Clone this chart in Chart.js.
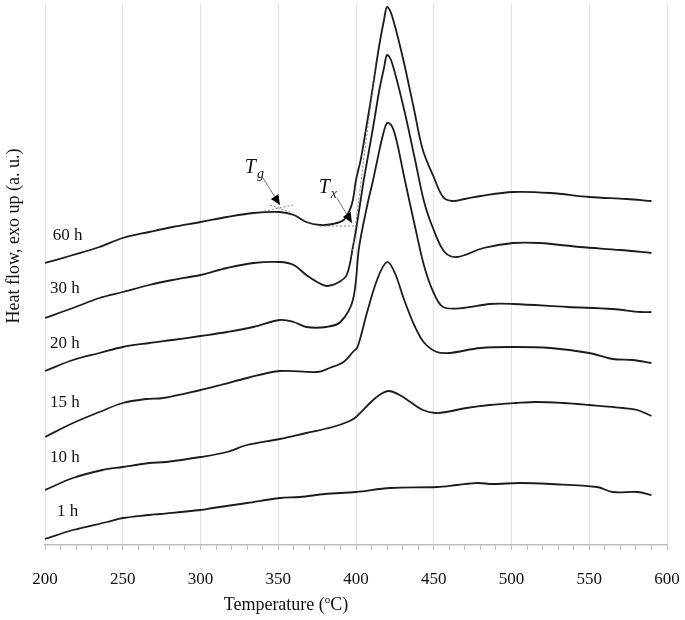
<!DOCTYPE html>
<html>
<head>
<meta charset="utf-8">
<title>DSC curves</title>
<script src="https://cdn.jsdelivr.net/npm/chart.js@4.4.1/dist/chart.umd.min.js"></script>
<style>
  html, body { margin: 0; padding: 0; background: #fff; }
  #wrap { width: 685px; height: 620px; }
</style>
</head>
<body>
<div id="wrap"><canvas id="myChart" width="685" height="620"></canvas></div>
<script>
// temperatures (C) and heat flow (a.u.), one pair per milling time
var temps60 = [200,218,235,250,267,282,300,317,334,351,360,368,377,385,392,396,398,400,403,406,409,412,415,418,420,423,430,437,443,450,456,462,470,480,501,525,550,574,590];
var heat60  = [28.2,29.0,29.8,30.7,31.3,31.8,32.3,32.8,33.2,33.3,33.0,32.3,32.0,32.1,32.5,33.5,34.5,36.5,38.5,41.2,44.0,47.0,50.0,52.5,53.8,53.0,48.8,43.8,39.5,36.8,34.8,34.4,34.6,34.9,35.3,35.2,34.8,34.6,34.4];

var temps30 = [200,218,235,250,267,282,300,317,334,351,360,368,375,381,388,394,398,400,403,405,409,412,415,418,420,423,431,438,444,450,457,465,482,501,518,544,570,590];
var heat30  = [22.7,23.7,24.7,25.3,26.0,26.5,27.0,27.7,28.2,28.3,28.0,27.0,26.3,25.9,26.2,27.0,29.8,31.5,34.5,36.5,40.0,42.7,45.5,47.7,49.0,48.3,43.5,38.5,34.2,31.5,29.3,28.8,29.7,30.2,30.2,29.8,29.5,29.2];

var temps20 = [200,218,235,250,267,282,300,317,334,351,360,368,381,390,398,402,407,411,414,417,420,423,426,431,438,444,450,456,469,486,501,536,565,583,590];
var heat20  = [17.4,18.5,19.2,19.8,20.2,20.5,20.9,21.3,21.8,22.5,22.3,21.8,21.8,22.3,24.5,29.8,33.8,36.5,38.7,40.8,42.2,41.9,40.5,36.8,31.8,27.8,25.2,23.8,23.7,24.1,24.1,23.8,23.6,23.3,23.3];

var temps15 = [200,218,235,250,265,276,300,313,330,351,375,383,392,398,401,407,414,420,425,431,438,444,452,460,480,501,525,550,565,578,590];
var heat15  = [10.8,12.2,13.3,14.2,14.6,14.7,15.5,16.0,16.7,17.4,17.3,17.7,18.3,19.3,19.8,23.2,26.7,28.3,27.2,24.5,21.8,20.2,19.3,19.2,19.7,19.8,19.7,19.2,18.6,18.5,18.2];

var temps10 = [200,218,237,250,267,278,300,317,330,351,368,385,396,400,409,415,421,428,435,443,451,458,471,486,503,516,533,550,572,581,590];
var heat10  = [5.5,6.7,7.5,7.8,8.2,8.3,8.8,9.3,10.0,10.6,11.2,11.8,12.4,12.8,14.2,15.0,15.4,15.0,14.3,13.5,13.2,13.3,13.7,14.0,14.2,14.3,14.2,14.0,13.7,13.5,12.9];

var temps1 = [200,218,240,250,267,274,300,308,330,351,364,380,400,422,452,465,478,488,505,525,555,565,581,590];
var heat1  = [0.6,1.5,2.3,2.7,3.0,3.1,3.5,3.7,4.2,4.7,4.8,5.1,5.3,5.7,5.8,6.0,6.2,6.1,6.2,6.1,5.8,5.3,5.3,5.0];

var seriesNames = ['60 h', '30 h', '20 h', '15 h', '10 h', '1 h'];
var xTickLabels = [200, 250, 300, 350, 400, 450, 500, 550, 600];

var serif = "'Liberation Serif', 'DejaVu Serif', serif";

function pairs(t, v) {
    return t.map(function(x, i){ return {x: x, y: v[i]}; });
}

var allTemps = [temps60, temps30, temps20, temps15, temps10, temps1];
var allHeat = [heat60, heat30, heat20, heat15, heat10, heat1];

var datasets = seriesNames.map(function(name, i){
    return {
        label: name,
        data: pairs(allTemps[i], allHeat[i]),
        borderColor: '#1c1c1c',
        borderWidth: 1.8,
        pointRadius: 0,
        fill: false,
        tension: 0.35
    };
});

// where the curve names sit (data units)
var nameAt = [[205, 30.9], [203.2, 25.6], [203.2, 20.1], [203.2, 14.2], [203.2, 8.7], [207.7, 3.3]];

function arrow(ctx, x1, y1, x2, y2) {
    ctx.save();
    ctx.strokeStyle = '#777';
    ctx.lineWidth = 1;
    ctx.beginPath();
    ctx.moveTo(x1, y1);
    ctx.lineTo(x2, y2);
    ctx.stroke();
    var a = Math.atan2(y2 - y1, x2 - x1);
    var len = 10, w = 4.5;
    ctx.fillStyle = '#000';
    ctx.beginPath();
    ctx.moveTo(x2, y2);
    ctx.lineTo(x2 - len * Math.cos(a) + w * Math.sin(a), y2 - len * Math.sin(a) - w * Math.cos(a));
    ctx.lineTo(x2 - len * Math.cos(a) - w * Math.sin(a), y2 - len * Math.sin(a) + w * Math.cos(a));
    ctx.closePath();
    ctx.fill();
    ctx.restore();
}

function dashed(ctx, x1, y1, x2, y2) {
    ctx.save();
    ctx.strokeStyle = '#666';
    ctx.lineWidth = 0.8;
    ctx.setLineDash([2, 2]);
    ctx.beginPath();
    ctx.moveTo(x1, y1);
    ctx.lineTo(x2, y2);
    ctx.stroke();
    ctx.restore();
}

function subLabel(ctx, x, y, main, sub) {
    ctx.save();
    ctx.fillStyle = '#111';
    ctx.textBaseline = 'alphabetic';
    ctx.textAlign = 'left';
    ctx.font = 'italic 20px ' + serif;
    ctx.fillText(main, x, y);
    var w = ctx.measureText(main).width;
    ctx.font = 'italic 14px ' + serif;
    ctx.fillText(sub, x + w + 1, y + 5);
    ctx.restore();
}

var decorations = {
    id: 'decorations',
    afterDatasetsDraw: function(chart) {
        var ctx = chart.ctx;
        var xs = chart.scales.x, ys = chart.scales.y;
        function X(v){ return xs.getPixelForValue(v); }
        function Y(v){ return ys.getPixelForValue(v); }

        // curve names
        ctx.save();
        ctx.fillStyle = '#111';
        ctx.font = '17px ' + serif;
        ctx.textAlign = 'left';
        ctx.textBaseline = 'middle';
        seriesNames.forEach(function(n, i){
            ctx.fillText(n, X(nameAt[i][0]), Y(nameAt[i][1]));
        });
        ctx.restore();

        // Tg construction
        dashed(ctx, X(338.3), Y(33.3), X(359.5), Y(34.0));
        dashed(ctx, X(344.7), Y(34.0), X(357.6), Y(33.3));
        arrow(ctx, X(340.2), Y(36.7), X(351.1), Y(34.0));
        subLabel(ctx, X(328.5), Y(37.2), 'T', 'g');

        // Tx construction
        dashed(ctx, X(376.8), Y(31.9), X(401.3), Y(31.9));
        dashed(ctx, X(397.4), Y(29.0), X(412.9), Y(48.5));
        arrow(ctx, X(387.8), Y(34.7), X(397.4), Y(32.2));
        subLabel(ctx, X(376.0), Y(35.2), 'T', 'x');

        // axis titles
        ctx.save();
        ctx.fillStyle = '#111';
        ctx.font = '18px ' + serif;
        ctx.textBaseline = 'middle';
        var t1 = 'Temperature (', t2 = 'o', t3 = 'C)';
        var w1 = ctx.measureText(t1).width;
        var w3 = ctx.measureText(t3).width;
        ctx.font = '11px ' + serif;
        var w2 = ctx.measureText(t2).width;
        var cx = 286, cy = 605;
        var sx = cx - (w1 + w2 + w3) / 2;
        ctx.font = '18px ' + serif;
        ctx.textAlign = 'left';
        ctx.fillText(t1, sx, cy);
        ctx.font = '11px ' + serif;
        ctx.fillText(t2, sx + w1, cy - 5);
        ctx.font = '18px ' + serif;
        ctx.fillText(t3, sx + w1 + w2, cy);

        ctx.translate(14, 236);
        ctx.rotate(-Math.PI / 2);
        ctx.textAlign = 'center';
        ctx.fillText('Heat flow, exo up (a. u.)', 0, 0);
        ctx.restore();
    }
};

var myChart = document.getElementById('myChart').getContext('2d');

var chart = new Chart(myChart, {
    type: 'line',
    data: { datasets: datasets },
    options: {
        responsive: false,
        animation: false,
        layout: { padding: { left: 45, right: 18, top: 3, bottom: 0 } },
        plugins: {
            legend: { display: false },
            tooltip: { enabled: false }
        },
        scales: {
            x: {
                type: 'linear',
                min: 200,
                max: 600,
                afterFit: function(s){
                    s.height = 75;
                    s.paddingLeft = 0;
                    s.paddingRight = 0;
                },
                afterBuildTicks: function(s){
                    var t = [];
                    for (var v = 200; v <= 600; v += 10) t.push({value: v});
                    s.ticks = t;
                },
                ticks: {
                    autoSkip: false,
                    maxRotation: 0,
                    padding: 19,
                    color: '#111',
                    font: { family: serif, size: 17 },
                    callback: function(v){ return xTickLabels.indexOf(v) >= 0 ? String(v) : ''; }
                },
                grid: {
                    color: function(c){ return (c.tick && xTickLabels.indexOf(c.tick.value) >= 0) ? '#e2e2e2' : 'rgba(0,0,0,0)'; },
                    tickColor: '#bdbdbd',
                    tickLength: 5,
                    lineWidth: 1
                },
                border: { display: true, color: '#bdbdbd', width: 1.5 }
            },
            y: {
                display: false,
                min: 0,
                max: 54.2
            }
        }
    },
    plugins: [decorations]
});
</script>
</body>
</html>
